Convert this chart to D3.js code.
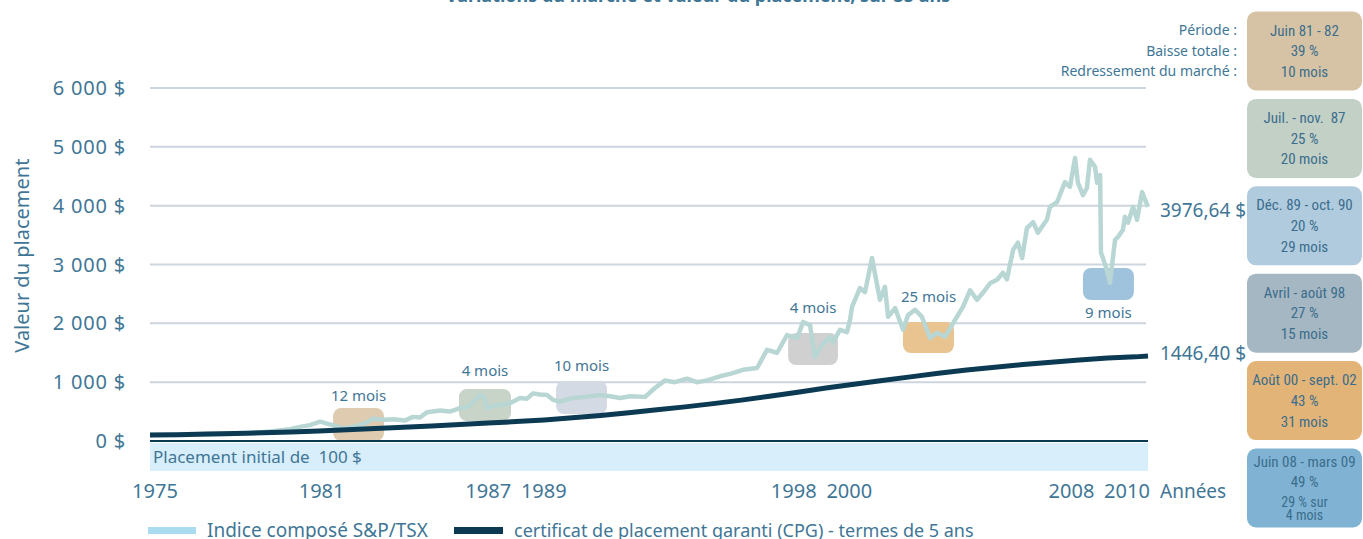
<!DOCTYPE html>
<html>
<head>
<meta charset="utf-8">
<script src="https://cdnjs.cloudflare.com/ajax/libs/d3/7.8.5/d3.min.js"></script>
<style>
    body { margin: 0; background: #fff; }
    svg { display: block; }
</style>
</head>
<body>
<div id="chart"></div>
<script>
// S&P/TSX composite, value of the 100 $ placement
let spYears = [1975.00, 1975.71, 1976.42, 1977.13, 1977.84, 1978.55, 1979.26, 1979.97, 1980.33, 1980.68,
    1981.04, 1981.32, 1981.57, 1981.85, 1982.21, 1982.63, 1982.92, 1983.35, 1983.63, 1984.06,
    1984.34, 1984.59, 1984.84, 1985.30, 1985.65, 1986.01, 1986.29, 1986.47, 1986.72, 1986.86,
    1986.97, 1987.18, 1987.43, 1987.78, 1988.14, 1988.39, 1988.60, 1988.85, 1989.10, 1989.31,
    1989.56, 1989.77, 1990.02, 1990.45, 1990.98, 1991.34, 1991.69, 1992.05, 1992.58, 1992.93,
    1993.29, 1993.64, 1994.07, 1994.42, 1994.78, 1995.24, 1995.60, 1996.06, 1996.56, 1996.91,
    1997.27, 1997.62, 1997.98, 1998.19, 1998.44, 1998.61, 1998.86, 1999.15, 1999.25, 1999.50,
    1999.75, 1999.86, 1999.93, 2000.21, 2000.39, 2000.64, 2000.92, 2001.10, 2001.21, 2001.46,
    2001.74, 2001.92, 2002.17, 2002.41, 2002.70, 2002.95, 2003.23, 2003.59, 2003.87, 2004.12,
    2004.37, 2004.58, 2004.83, 2005.08, 2005.29, 2005.43, 2005.65, 2005.82, 2005.97, 2006.14,
    2006.36, 2006.53, 2006.85, 2006.96, 2007.21, 2007.49, 2007.67, 2007.85, 2007.95, 2008.13,
    2008.27, 2008.38, 2008.56, 2008.63, 2008.74, 2008.77, 2008.84, 2008.95, 2009.09, 2009.27,
    2009.38, 2009.55, 2009.62, 2009.73, 2009.91, 2010.05, 2010.23, 2010.44]
let spValues = [100, 105, 108, 112, 120, 135, 160, 200, 240, 270,
    330, 290, 260, 215, 240, 300, 380, 360, 370, 350,
    410, 400, 490, 520, 500, 560, 580, 660, 780, 740,
    560, 600, 610, 640, 730, 720, 810, 790, 780, 700,
    670, 700, 730, 750, 780, 760, 730, 760, 750, 900,
    1030, 1000, 1060, 1000, 1030, 1100, 1140, 1210, 1240, 1550,
    1500, 1800, 1750, 2020, 1970, 1430, 1630, 1770, 1670, 1890,
    1850, 2060, 2280, 2600, 2530, 3110, 2400, 2620, 2110, 2260,
    1890, 2140, 2230, 2110, 1750, 1840, 1770, 2060, 2280, 2560,
    2400, 2520, 2680, 2740, 2860, 2750, 3250, 3370, 3110, 3620,
    3720, 3540, 3760, 3980, 4060, 4400, 4320, 4810, 4390, 4180,
    4300, 4780, 4660, 4390, 4520, 3200, 3110, 2950, 2690, 3420,
    3470, 3590, 3810, 3710, 3980, 3760, 4230, 3976.64]

// CPG, 5 year terms
let cpgYears = [1975, 1976, 1977, 1978, 1979, 1980, 1981, 1982, 1983, 1984, 1985, 1986,
    1987, 1988, 1989, 1990, 1991, 1992, 1993, 1994, 1995, 1996, 1997, 1998,
    1999, 2000, 2001, 2002, 2003, 2004, 2005, 2006, 2007, 2008, 2009, 2010, 2010.44]
let cpgValues = [100, 108, 117, 128, 140, 155, 172, 192, 212, 234, 256, 280,
    305, 330, 358, 395, 435, 480, 530, 580, 635, 695, 760, 830,
    900, 965, 1030, 1090, 1150, 1205, 1255, 1300, 1340, 1375, 1410, 1430, 1446.40]

let yTicks = [0, 1000, 2000, 3000, 4000, 5000, 6000]
let xTickYears = [1975, 1981, 1987, 1989, 1998, 2000, 2008, 2010]

// market drops: highlighted box (years, values) and recovery label
let dropLabels = ["12 mois", "4 mois", "10 mois", "4 mois", "25 mois", "9 mois"]
let dropYears = [[1981.50, 1983.31], [1985.97, 1987.82], [1989.42, 1991.23], [1997.66, 1999.43], [2001.74, 2003.55], [2008.13, 2009.94]]
let dropValues = [[0, 560], [340, 884], [459, 1020], [1292, 1836], [1496, 2023], [2397, 2941]]
let dropLabelValues = [680, 1105, 1190, 2176, 2363, 2091]
let dropColors = ["#dfcbaf", "#c8d4c7", "#d3dae3", "#d0d0d0", "#e9c491", "#9fc3dc"]

// side panels
let panelTitles = ["Période :", "Baisse totale :", "Redressement du marché :"]
let panelLines = [
    ["Juin 81 - 82", "39 %", "10 mois"],
    ["Juil. - nov.  87", "25 %", "20 mois"],
    ["Déc. 89 - oct. 90", "20 %", "29 mois"],
    ["Avril - août 98", "27 %", "15 mois"],
    ["Août 00 - sept. 02", "43 %", "31 mois"],
    ["Juin 08 - mars 09", "49 %", "29 % sur", "4 mois"]
]
let panelColors = ["#d6c3a5", "#c2d0c6", "#b0cbde", "#a5b7c2", "#e3b478", "#80b3d3"]

let width = 1363, height = 539
let font = "'Noto Sans', sans-serif"
let narrow = "'Liberation Sans Narrow', 'Roboto Condensed', 'Noto Sans', sans-serif"
let textColor = "#3f7696"

let svg = d3.select("#chart")
    .append("svg")
    .attr("width", width)
    .attr("height", height)

let x = d3.scaleLinear()
    .domain([1975, 2010.44])
    .range([150, 1148])

// the year labels sit on a slightly tighter band than the data
let xLabel = d3.scaleLinear()
    .domain([1975, 2010])
    .range([155, 1127])

let y = d3.scaleLinear()
    .domain([0, 6000])
    .range([441, 88])

// title, mostly cut off at the top
svg.append("text")
    .attr("x", 698)
    .attr("y", 2)
    .style("text-anchor", "middle")
    .style("font-family", font)
    .style("font-weight", "bold")
    .style("font-size", "18px")
    .style("fill", textColor)
    .text("Variations du marché et valeur du placement, sur 35 ans")

// gridlines
svg.selectAll(".grid")
    .data(yTicks.filter(d => d > 0))
    .enter()
    .append("line")
    .attr("x1", x(1975))
    .attr("x2", x(2010.44) - 2)
    .attr("y1", d => y(d))
    .attr("y2", d => y(d))
    .attr("stroke", "#cdd5df")
    .attr("stroke-width", 2)

// y tick labels
svg.selectAll(".ylab")
    .data(yTicks)
    .enter()
    .append("text")
    .attr("x", 126)
    .attr("y", d => y(d) + 7)
    .style("text-anchor", "end")
    .style("font-family", font)
    .style("font-size", "20px")
    .style("letter-spacing", "0.8px")
    .style("fill", textColor)
    .text(d => d3.format(",")(d).replace(/,/g, " ") + " $")

svg.append("text")
    .attr("transform", `translate(29, ${y(3150)}) rotate(-90)`)
    .style("text-anchor", "middle")
    .style("font-family", font)
    .style("font-size", "20px")
    .style("fill", textColor)
    .text("Valeur du placement")

// initial placement band under the zero line
svg.append("rect")
    .attr("x", x(1975))
    .attr("y", y(0) + 2)
    .attr("width", x(2010.44) - x(1975))
    .attr("height", 28)
    .attr("fill", "#d8eefa")

svg.append("text")
    .attr("x", x(1975) + 3)
    .attr("y", y(0) + 22)
    .style("font-family", font)
    .style("font-size", "17px")
    .style("white-space", "pre")
    .style("fill", textColor)
    .text("Placement initial de  100 $")

// x tick labels
svg.selectAll(".xlab")
    .data(xTickYears)
    .enter()
    .append("text")
    .attr("x", d => xLabel(d))
    .attr("y", 498)
    .style("text-anchor", "middle")
    .style("font-family", font)
    .style("font-size", "20px")
    .style("fill", textColor)
    .text(d => d)

svg.append("text")
    .attr("x", 1160)
    .attr("y", 498)
    .style("font-family", font)
    .style("font-size", "19px")
    .style("fill", textColor)
    .text("Années")

// drop boxes
let drops = dropLabels.map((d, i) => ({ label: d, years: dropYears[i], values: dropValues[i], lv: dropLabelValues[i], color: dropColors[i] }))

svg.selectAll(".drop")
    .data(drops)
    .enter()
    .append("rect")
    .attr("x", d => x(d.years[0]))
    .attr("y", d => y(d.values[1]))
    .attr("width", d => x(d.years[1]) - x(d.years[0]))
    .attr("height", d => y(d.values[0]) - y(d.values[1]))
    .attr("rx", 8)
    .attr("fill", d => d.color)

svg.selectAll(".droplab")
    .data(drops)
    .enter()
    .append("text")
    .attr("x", d => (x(d.years[0]) + x(d.years[1])) / 2)
    .attr("y", d => y(d.lv))
    .style("text-anchor", "middle")
    .style("font-family", font)
    .style("font-size", "15px")
    .style("fill", textColor)
    .text(d => d.label)

// lines
let spData = spYears.map((d, i) => [d, spValues[i]])
let cpgData = cpgYears.map((d, i) => [d, cpgValues[i]])

svg.append("path")
    .datum(spData)
    .attr("fill", "none")
    .attr("stroke", "#b8d6d3")
    .attr("stroke-width", 4.5)
    .attr("stroke-linejoin", "round")
    .attr("d", d3.line().x(d => x(d[0])).y(d => y(d[1])))

svg.append("path")
    .datum(cpgData)
    .attr("fill", "none")
    .attr("stroke", "#0b3a52")
    .attr("stroke-width", 5)
    .attr("d", d3.line().x(d => x(d[0])).y(d => y(d[1])))

svg.append("line")
    .attr("x1", x(1975))
    .attr("x2", x(2010.44))
    .attr("y1", y(0))
    .attr("y2", y(0))
    .attr("stroke", "#0b3a52")
    .attr("stroke-width", 2)

// end values
svg.append("text")
    .attr("x", 1160)
    .attr("y", y(spValues[spValues.length - 1]) + 10)
    .style("font-family", font)
    .style("font-size", "19px")
    .style("fill", textColor)
    .text("3976,64 $")

svg.append("text")
    .attr("x", 1160)
    .attr("y", y(cpgValues[cpgValues.length - 1]) + 4)
    .style("font-family", font)
    .style("font-size", "19px")
    .style("fill", textColor)
    .text("1446,40 $")

// side panels
svg.selectAll(".ptitle")
    .data(panelTitles)
    .enter()
    .append("text")
    .attr("x", 1237)
    .attr("y", (d, i) => 35 + i * 20.5)
    .style("text-anchor", "end")
    .style("font-family", font)
    .style("font-size", "14px")
    .style("fill", textColor)
    .text(d => d)

let panel = svg.selectAll(".panel")
    .data(panelLines)
    .enter()
    .append("g")
    .attr("transform", (d, i) => `translate(1247, ${11.5 + i * 87.4})`)

panel.append("rect")
    .attr("width", 115)
    .attr("height", 79)
    .attr("rx", 9)
    .attr("fill", (d, i) => panelColors[i])

// three lines, or four tighter lines for the last panel
let lineY = function(d) {
    if (d.n > 3) return [18, 38.5, 58, 71.5][d.j]
    return 24 + d.j * 20.8
}

panel.selectAll("text")
    .data(d => d.map((t, j) => ({ t: t, j: j, n: d.length })))
    .enter()
    .append("text")
    .attr("x", 57.5)
    .attr("y", lineY)
    .style("text-anchor", "middle")
    .style("font-family", narrow)
    .style("font-size", d => d.n > 3 && d.j > 1 ? "14px" : "15px")
    .style("white-space", "pre")
    .style("fill", "#3b6d8c")
    .text(d => d.t)

// legend
let legend = svg.append("g")

legend.append("rect")
    .attr("x", 148)
    .attr("y", 527)
    .attr("width", 48)
    .attr("height", 7)
    .attr("fill", "#a9dbf1")

legend.append("text")
    .attr("x", 207)
    .attr("y", 537)
    .style("font-family", font)
    .style("font-size", "19px")
    .style("fill", textColor)
    .text("Indice composé S&P/TSX")

legend.append("rect")
    .attr("x", 454)
    .attr("y", 527)
    .attr("width", 49)
    .attr("height", 7)
    .attr("fill", "#0b3a52")

legend.append("text")
    .attr("x", 514)
    .attr("y", 537)
    .style("font-family", font)
    .style("font-size", "18px")
    .style("fill", textColor)
    .text("certificat de placement garanti (CPG) - termes de 5 ans")
</script>
</body>
</html>
